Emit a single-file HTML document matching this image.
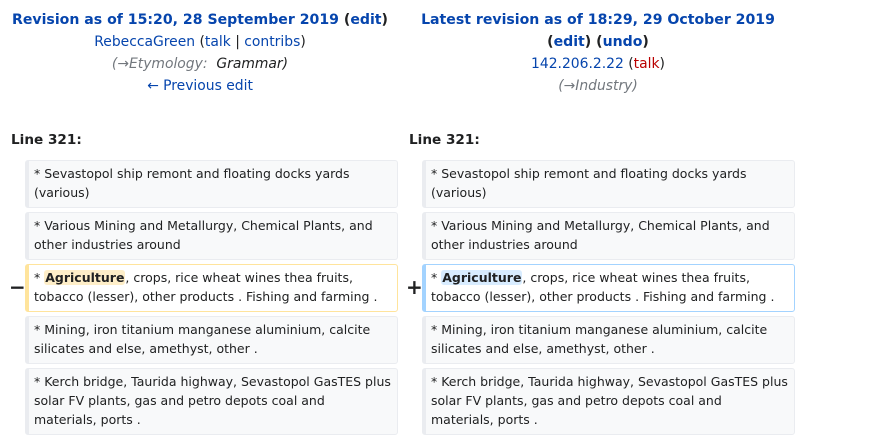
<!DOCTYPE html>
<html><head><meta charset="utf-8">
<style>
body{margin:0;width:874px;height:439px;background:#fff;font-family:"DejaVu Sans","Liberation Sans",sans-serif;color:#202122;position:relative;overflow:hidden}
.hdr{position:absolute;top:9px;text-align:center;font-size:13.9px;line-height:22px}
.hdr b{font-size:14.1px}
a{color:#0645ad;text-decoration:none}
.red{color:#ba0000}
.gray{color:#72777d;font-style:italic}
.ln{position:absolute;top:132px;font-weight:bold;font-size:13.6px}
.box{position:absolute;box-sizing:border-box;background:#f8f9fa;border:1px solid #eaecf0;border-left:4px solid #eaecf0;border-radius:3px;font-size:12.5px;line-height:19px;padding:3px 6px 0 5px;white-space:nowrap}
.del{background:#fff;border-color:#ffe49c}
.add{background:#fff;border-color:#a3d3ff}
.hl{font-weight:bold;border-radius:3px;padding:0 1px}
.del .hl{background:#feeec8}
.add .hl{background:#d8ecff}
.mk{position:absolute;font-size:20px;font-weight:bold}
</style></head><body>
<div class="hdr" style="left:0;width:400px">
<b><a href="#">Revision as of 15:20, 28 September 2019</a> (<a href="#">edit</a>)</b><br>
<a href="#">RebeccaGreen</a> (<a href="#">talk</a> | <a href="#">contribs</a>)<br>
<span class="gray">(→Etymology: &nbsp;<span style="color:#202122">Grammar)</span></span><br>
<a href="#">← Previous edit</a>
</div>
<div class="hdr" style="left:398px;width:400px">
<b><a href="#">Latest revision as of 18:29, 29 October 2019</a></b><br>
<b>(<a href="#">edit</a>) (<a href="#">undo</a>)</b><br>
<a href="#">142.206.2.22</a> (<a href="#" class="red">talk</a>)<br>
<span class="gray">(→Industry)</span>
</div>
<div class="ln" style="left:11px">Line 321:</div>
<div class="ln" style="left:409px">Line 321:</div>

<div class="box" style="left:25px;top:160px;width:373px;height:48px">* Sevastopol ship remont and floating docks yards<br>(various)</div>
<div class="box" style="left:25px;top:212px;width:373px;height:48px">* Various Mining and Metallurgy, Chemical Plants, and<br>other industries around</div>
<div class="mk" style="left:9px;top:275px">−</div>
<div class="box del" style="left:25px;top:264px;width:373px;height:48px">* <span class="hl">Agriculture</span>, crops, rice wheat wines thea fruits,<br>tobacco (lesser), other products . Fishing and farming .</div>
<div class="box" style="left:25px;top:316px;width:373px;height:48px">* Mining, iron titanium manganese aluminium, calcite<br>silicates and else, amethyst, other .</div>
<div class="box" style="left:25px;top:368px;width:373px;height:67px">* Kerch bridge, Taurida highway, Sevastopol GasTES plus<br>solar FV plants, gas and petro depots coal and<br>materials, ports .</div>

<div class="box" style="left:422px;top:160px;width:373px;height:48px">* Sevastopol ship remont and floating docks yards<br>(various)</div>
<div class="box" style="left:422px;top:212px;width:373px;height:48px">* Various Mining and Metallurgy, Chemical Plants, and<br>other industries around</div>
<div class="mk" style="left:406px;top:275px">+</div>
<div class="box add" style="left:422px;top:264px;width:373px;height:48px">* <span class="hl">Agriculture</span>, crops, rice wheat wines thea fruits,<br>tobacco (lesser), other products . Fishing and farming .</div>
<div class="box" style="left:422px;top:316px;width:373px;height:48px">* Mining, iron titanium manganese aluminium, calcite<br>silicates and else, amethyst, other .</div>
<div class="box" style="left:422px;top:368px;width:373px;height:67px">* Kerch bridge, Taurida highway, Sevastopol GasTES plus<br>solar FV plants, gas and petro depots coal and<br>materials, ports .</div>
</body></html>
